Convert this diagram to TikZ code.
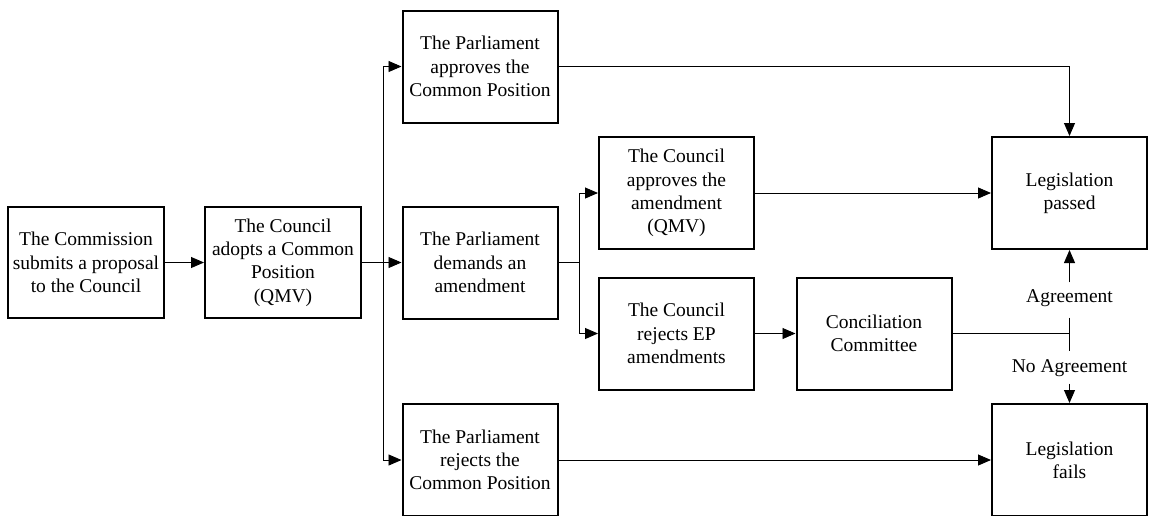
\documentclass[tikz,border=0pt]{standalone}
\usepackage{fontspec}
\setmainfont{Liberation Serif}
\usepackage{tikz}
\usetikzlibrary{arrows.meta}

\tikzset{
  stepbox/.style={draw=black, line width=2pt, minimum width=155pt, minimum height=112pt,
    align=center, inner sep=0pt, font=\fontsize{19.5}{23.3}\selectfont},
  flow/.style={draw=black, line width=0.9pt},
  arr/.style={flow, -{Triangle[length=13pt,width=11pt]}},
  lbl/.style={inner sep=7pt, font=\fontsize{19.5}{23.3}\selectfont}
}

\begin{document}
\begin{tikzpicture}[x=1pt,y=-1pt]
                    \useasboundingbox (0,0) rectangle (1149,515);

                    \node[stepbox, minimum width=156pt, minimum height=111pt] (commission) at (86,262.5)
                        {The Commission\\submits a proposal\\to the Council};
                    \node[stepbox, minimum width=156pt, minimum height=111pt] (adopt) at (283,262.5)
                        {The Council\\adopts a Common\\Position\\(QMV)};
                    \node[stepbox] (approves) at (480,66.5) {The Parliament\\approves the\\Common Position};
                    \node[stepbox] (demands) at (480,262.5) {The Parliament\\demands an\\amendment};
                    \node[stepbox] (rejects) at (480,460) {The Parliament\\rejects the\\Common Position};
                    \node[stepbox] (capprove) at (676.5,193) {The Council\\approves the\\amendment\\(QMV)};
                    \node[stepbox] (creject) at (676.5,333.5) {The Council\\rejects EP\\amendments};
                    \node[stepbox] (concil) at (874,333.5) {Conciliation\\Committee};
                    \node[stepbox] (passed) at (1069.5,193) {Legislation\\passed};
                    \node[stepbox] (fails) at (1069.5,460) {Legislation\\fails};

                    \node[lbl] (agree) at (1069.5,298) {Agreement};
                    \node[lbl] (noagree) at (1069.5,368) {No Agreement};

                    \coordinate (split1) at (383,262.5);
                    \coordinate (split2) at (579,262.5);
                    \coordinate (meet) at (1069.5,333.5);

                    \draw[arr] (commission.east) -- (adopt.west);
                    \draw[arr] (adopt.east) -- (demands.west);
                    \draw[arr] (split1) |- (approves.west);
                    \draw[arr] (split1) |- (rejects.west);
                    \draw[flow] (demands.east) -- (split2);
                    \draw[arr] (split2) |- (capprove.west);
                    \draw[arr] (split2) |- (creject.west);
                    \draw[arr] (approves.east) -| (passed.north);
                    \draw[arr] (capprove.east) -- (passed.west);
                    \draw[arr] (creject.east) -- (concil.west);
                    \draw[arr] (rejects.east) -- (fails.west);
                    \draw[flow] (concil.east) -- (meet);
                    \draw[flow] ([yshift=16pt]meet) -- ([yshift=-17pt]meet);
                    \draw[arr] (agree.north) -- (passed.south);
                    \draw[arr] (noagree.south) -- (fails.north);
\end{tikzpicture}
\end{document}
